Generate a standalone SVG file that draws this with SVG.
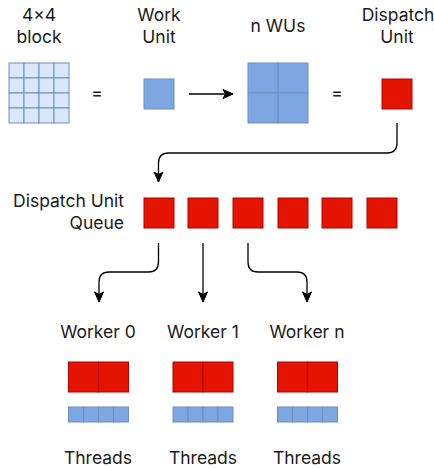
<svg xmlns="http://www.w3.org/2000/svg" width="434" height="468" viewBox="0 0 434 468">
  <style>
    .lbl { font-family: Inter, "Liberation Sans", sans-serif; font-size: 17.5px; fill: #1a1a1a; }
    .c { text-anchor: middle; }
    .r { text-anchor: end; }
    .light { fill: #dae8fc; stroke: #6c8ebf; stroke-width: 1; }
    .wu { fill: #7ea6e0; stroke: #6c8ebf; stroke-width: 1; }
    .du { fill: #e51400; stroke: #b20000; stroke-width: 1; }
    .edge { fill: none; stroke: #000; stroke-width: 1.3; marker-end: url(#arrow); }
  </style>
  <defs>
    <marker id="arrow" markerUnits="userSpaceOnUse" markerWidth="12" markerHeight="12" viewBox="0 0 12 12" refX="11" refY="6" orient="auto">
      <path d="M1,1.5 L11,6 L1,10.5 L3.5,6 Z" fill="#000" stroke="#000" stroke-width="1"/>
    </marker>
  </defs>
  <rect width="434" height="468" fill="#fff"/>

  <!-- header row -->
  <g id="block4x4">
    <text class="lbl c" x="39" y="21">4×4</text>
    <text class="lbl c" x="39" y="43">block</text>
    <g transform="translate(9,63)">
      <rect x="0" y="0" width="15" height="15" class="light"/><rect x="15" y="0" width="15" height="15" class="light"/><rect x="30" y="0" width="15" height="15" class="light"/><rect x="45" y="0" width="15" height="15" class="light"/>
      <rect x="0" y="15" width="15" height="15" class="light"/><rect x="15" y="15" width="15" height="15" class="light"/><rect x="30" y="15" width="15" height="15" class="light"/><rect x="45" y="15" width="15" height="15" class="light"/>
      <rect x="0" y="30" width="15" height="15" class="light"/><rect x="15" y="30" width="15" height="15" class="light"/><rect x="30" y="30" width="15" height="15" class="light"/><rect x="45" y="30" width="15" height="15" class="light"/>
      <rect x="0" y="45" width="15" height="15" class="light"/><rect x="15" y="45" width="15" height="15" class="light"/><rect x="30" y="45" width="15" height="15" class="light"/><rect x="45" y="45" width="15" height="15" class="light"/>
    </g>
  </g>
  <text id="eq1" class="lbl c" x="97" y="99">=</text>

  <g id="work-unit">
    <text class="lbl c" x="159" y="21">Work</text>
    <text class="lbl c" x="159" y="43">Unit</text>
    <rect x="144" y="79" width="30" height="30" class="wu"/>
  </g>

  <g id="n-wus">
    <text class="lbl c" x="278" y="32">n WUs</text>
    <rect x="248" y="63" width="30" height="30" class="wu"/>
    <rect x="278" y="63" width="30" height="30" class="wu"/>
    <rect x="248" y="93" width="30" height="30" class="wu"/>
    <rect x="278" y="93" width="30" height="30" class="wu"/>
  </g>
  <text id="eq2" class="lbl c" x="337" y="99">=</text>

  <g id="dispatch-unit">
    <text class="lbl c" x="398" y="21">Dispatch</text>
    <text class="lbl c" x="397" y="43">Unit</text>
    <rect x="382" y="79" width="30" height="30" class="du"/>
  </g>

  <!-- queue -->
  <g id="queue">
    <text class="lbl r" x="124" y="207">Dispatch Unit</text>
    <text class="lbl r" x="124" y="229">Queue</text>
    <rect x="144" y="198" width="30" height="30" class="du"/>
    <rect x="188" y="198" width="30" height="30" class="du"/>
    <rect x="233" y="198" width="30" height="30" class="du"/>
    <rect x="278" y="198" width="30" height="30" class="du"/>
    <rect x="322" y="198" width="30" height="30" class="du"/>
    <rect x="367" y="198" width="30" height="30" class="du"/>
  </g>

  <!-- workers -->
  <g id="worker-0">
    <text class="lbl c" x="98" y="338">Worker 0</text>
    <rect x="68.5" y="362" width="30" height="30" class="du"/>
    <rect x="98.5" y="362" width="30" height="30" class="du"/>
    <rect x="68.5" y="407" width="15" height="15" class="wu"/>
    <rect x="83.5" y="407" width="15" height="15" class="wu"/>
    <rect x="98.5" y="407" width="15" height="15" class="wu"/>
    <rect x="113.5" y="407" width="15" height="15" class="wu"/>
    <text class="lbl c" x="98" y="464">Threads</text>
  </g>
  <g id="worker-1">
    <text class="lbl c" x="203" y="338">Worker 1</text>
    <rect x="173" y="362" width="30" height="30" class="du"/>
    <rect x="203" y="362" width="30" height="30" class="du"/>
    <rect x="173" y="407" width="15" height="15" class="wu"/>
    <rect x="188" y="407" width="15" height="15" class="wu"/>
    <rect x="203" y="407" width="15" height="15" class="wu"/>
    <rect x="218" y="407" width="15" height="15" class="wu"/>
    <text class="lbl c" x="203" y="464">Threads</text>
  </g>
  <g id="worker-n">
    <text class="lbl c" x="307" y="338">Worker n</text>
    <rect x="277.5" y="362" width="30" height="30" class="du"/>
    <rect x="307.5" y="362" width="30" height="30" class="du"/>
    <rect x="277.5" y="407" width="15" height="15" class="wu"/>
    <rect x="292.5" y="407" width="15" height="15" class="wu"/>
    <rect x="307.5" y="407" width="15" height="15" class="wu"/>
    <rect x="322.5" y="407" width="15" height="15" class="wu"/>
    <text class="lbl c" x="307" y="464">Threads</text>
  </g>

  <!-- connectors -->
  <g id="connectors">
    <path class="edge" d="M189,94 H233"/>
    <path class="edge" d="M397,123 V143 Q397,153 387,153 H168.5 Q158.5,153 158.5,163 V182"/>
    <path class="edge" d="M158.5,243 V262 Q158.5,272 148.5,272 H109 Q99,272 99,282 V302"/>
    <path class="edge" d="M203,243 V302"/>
    <path class="edge" d="M248,243 V262 Q248,272 258,272 H297 Q307,272 307,282 V302"/>
  </g>
</svg>
